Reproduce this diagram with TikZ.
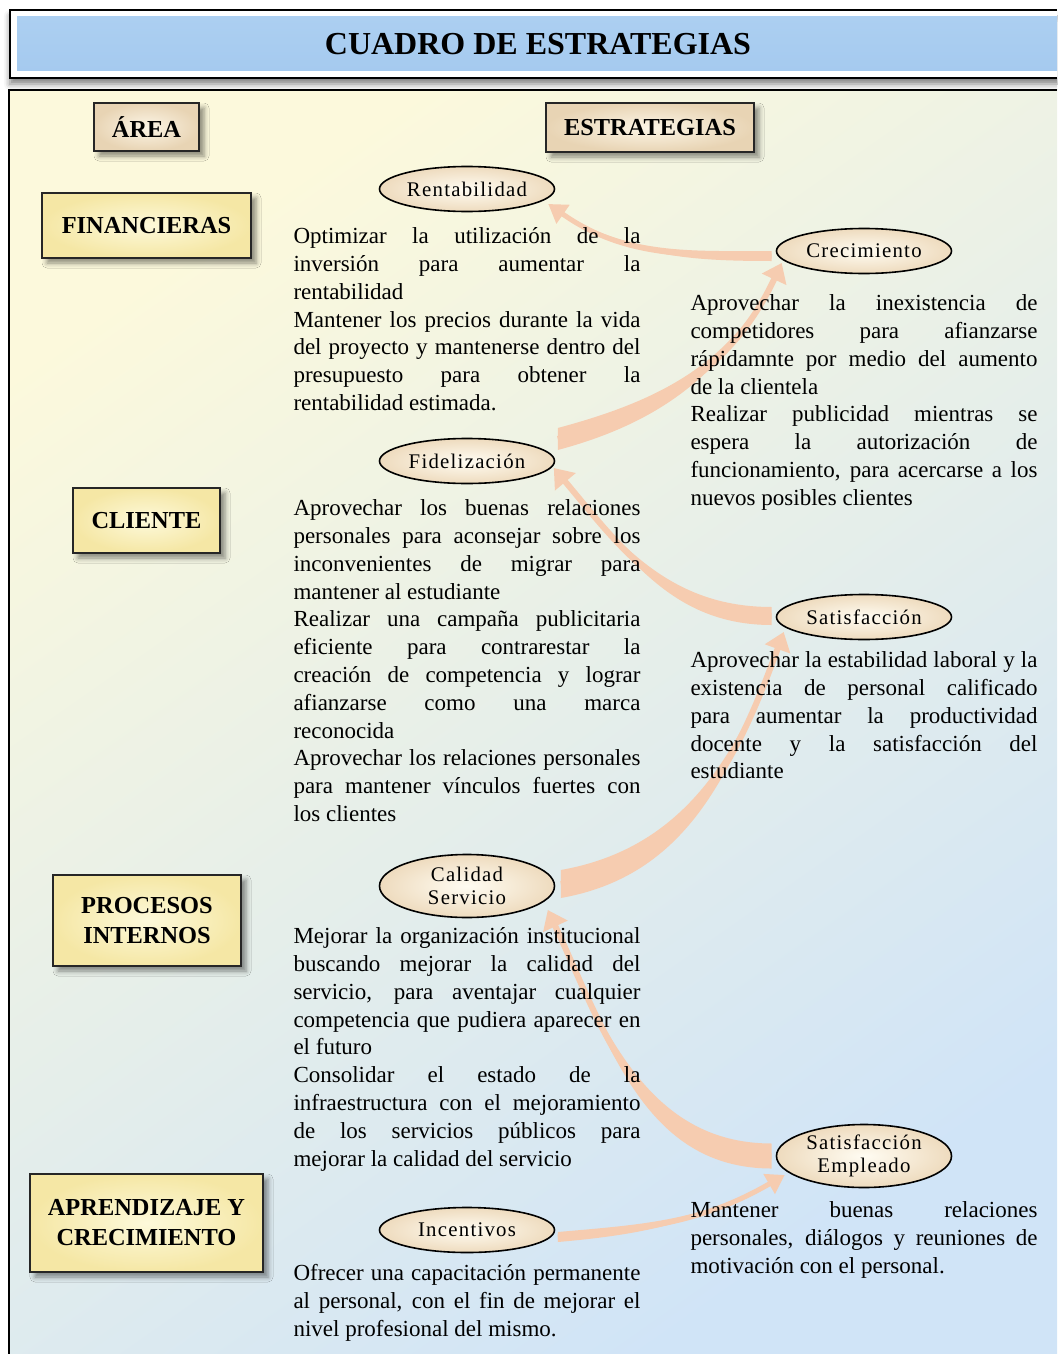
\documentclass[tikz,border=0pt]{standalone}
\usepackage{fontspec}
\setmainfont{Liberation Serif}
\newfontfamily\elipfont[LetterSpace=6]{Liberation Serif}
\usetikzlibrary{positioning,shapes.geometric,arrows.meta,calc,shadows.blur}

\definecolor{flecha}{RGB}{246,204,176}
\definecolor{fondoA}{RGB}{252,249,220}
\definecolor{fondoB}{RGB}{233,240,240}
\definecolor{fondoC}{RGB}{208,228,247}
\definecolor{titA}{RGB}{172,207,241}
\definecolor{titB}{RGB}{134,185,233}
\definecolor{titC}{RGB}{165,202,239}
\definecolor{cajain}{RGB}{252,245,230}
\definecolor{cajaout}{RGB}{232,212,180}
\definecolor{perspin}{RGB}{253,249,218}
\definecolor{perspout}{RGB}{245,231,165}
\definecolor{elipin}{RGB}{255,252,242}
\definecolor{elipout}{RGB}{238,219,190}

\begin{document}
\begin{tikzpicture}[x=0.5pt, y=0.5pt,
    caja/.style = {draw=black!85, line width=1pt, inner color=cajain, outer color=cajaout,
                   font=\bfseries\fontsize{12.2}{15}\selectfont, align=center,
                   blur shadow={shadow xshift=2.5pt, shadow yshift=-2.5pt, shadow blur radius=2.5pt, shadow opacity=45}},
    persp/.style = {caja, inner color=perspin, outer color=perspout, minimum height=32.5pt},
    obj/.style = {draw, ellipse, line width=0.8pt, inner sep=0pt, minimum width=87.5pt, minimum height=22.5pt,
                  inner color=elipin, outer color=elipout, align=center, font=\elipfont\fontsize{10.4}{11.2}\selectfont},
    estr/.style = {text width=173.5pt, align=justify, inner sep=0pt, font=\fontsize{11.5}{13.9}\selectfont},
    banda/.style = {fill=flecha},
    punta/.style = {draw=flecha, line width=3pt, -{Triangle[length=9pt,width=13pt]}},
    puntab/.style = {draw=flecha, line width=2.5pt, -{Triangle[length=9pt,width=11pt]}}]

  \useasboundingbox (0,0) rectangle (1057,-1354);

  % cuadro principal
  \shade[top color=fondoA, middle color=fondoB, bottom color=fondoC, shading angle=35] (9,-90) rectangle (1057,-1354);
  \draw[line width=1pt] (9,-1354) -- (9,-90) -- (1057,-90);

  % titulo
  \draw[line width=1pt, fill=white, blur shadow={shadow xshift=0pt, shadow yshift=-3pt, shadow blur radius=3pt, shadow opacity=50}] (1057,-10) -- (10,-10) -- (10,-78) -- (1057,-78);
  \shade[top color=titA, middle color=titB, bottom color=titC] (17,-17) rectangle (1057,-71);
  \node[font=\bfseries\fontsize{16}{19}\selectfont] (titulo) at (538,-44) {CUADRO DE ESTRATEGIAS};

  % encabezados
  \node[caja, minimum width=52.5pt, minimum height=24pt] (harea) at (146.5,-127) {ÁREA};
  \node[caja, minimum width=104pt, minimum height=24.5pt] (hestr) at (650,-127.5) {ESTRATEGIAS};

  % perspectivas
  \node[persp, minimum width=104.5pt] (fin) at (146.5,-225.5) {FINANCIERAS};
  \node[persp, minimum width=73.5pt] (cli) at (146.5,-520.5) {CLIENTE};
  \node[persp, minimum width=94pt, minimum height=45.5pt] (proc) at (147,-920.5) {PROCESOS\\INTERNOS};
  \node[persp, minimum width=116.5pt, minimum height=49pt] (apr) at (146.5,-1223) {APRENDIZAJE Y\\CRECIMIENTO};

  % objetivos
  \node[obj] (rent) at (467,-189) {Rentabilidad};
  \node[obj] (crec) at (864,-251) {Crecimiento};
  \node[obj] (fid) at (467,-461) {Fidelización};
  \node[obj] (sat) at (864,-617) {Satisfacción};
  \node[obj, minimum height=31.5pt] (cal) at (467,-886) {Calidad\\Servicio};
  \node[obj, minimum height=31.5pt] (satemp) at (864,-1156) {Satisfacción\\Empleado};
  \node[obj] (inc) at (467,-1230) {Incentivos};

  % puntos de las flechas
  \coordinate (c1) at ($(crec.west)+(-4,-5)$);
  \coordinate (r1) at ($(rent.east)+(-7,-15)$);
  \coordinate (f2) at ($(fid.east)+(2.5,22)$);
  \coordinate (c2) at ($(crec.west)+(6,-12)$);
  \coordinate (s3) at ($(sat.west)+(-4,1)$);
  \coordinate (f3) at ($(fid.east)+(-1.5,-7)$);
  \coordinate (k4) at ($(cal.east)+(5.5,2)$);
  \coordinate (s4) at ($(sat.west)+(8,-15)$);
  \coordinate (e5) at ($(satemp.west)+(-4,0)$);
  \coordinate (k5) at ($(cal.east)+(-7.5,-24)$);
  \coordinate (i6) at ($(inc.east)+(2.5,-7)$);
  \coordinate (e6) at ($(satemp.west)+(9,-19)$);

  % flechas
  \fill[banda] ($(c1)+(0,5)$) to[out=180,in=-35] (r1) to[out=-35,in=180] ($(c1)+(0,-5)$) -- cycle;
  \draw[puntab] (c1) to[out=180,in=-35] (r1);

  \fill[banda] ($(f2)+(0,11)$) to[out=15,in=-115] (c2) to[out=-115,in=15] ($(f2)+(0,-11)$) -- cycle;
  \draw[punta] (f2) to[out=15,in=-115] (c2);

  \fill[banda] ($(s3)+(0,9)$) to[out=180,in=-50] (f3) to[out=-50,in=180] ($(s3)+(0,-9)$) -- cycle;
  \draw[punta] (s3) to[out=180,in=-50] (f3);

  \fill[banda] ($(k4)+(0,14)$) to[out=10,in=-110] (s4) to[out=-110,in=10] ($(k4)+(0,-14)$) -- cycle;
  \draw[punta] (k4) to[out=10,in=-110] (s4);

  \fill[banda] ($(e5)+(0,12.5)$) to[out=180,in=-65] (k5) to[out=-65,in=180] ($(e5)+(0,-12.5)$) -- cycle;
  \draw[punta] (e5) to[out=180,in=-65] (k5);

  \fill[banda] ($(i6)+(0,5)$) to[out=5,in=-150] (e6) to[out=-150,in=5] ($(i6)+(0,-5)$) -- cycle;
  \draw[puntab] (i6) to[out=5,in=-150] (e6);

  % estrategias
  \node[estr, below=7.5pt of rent] (trent) {Optimizar la utilización de la\linebreak
    inversión para aumentar la\linebreak rentabilidad\par
    Mantener los precios durante la vida\linebreak del proyecto y mantenerse dentro del\linebreak
    presupuesto para obtener la\linebreak rentabilidad estimada.};
  \node[estr, below=10pt of crec] (tcrec) {Aprovechar la inexistencia de\linebreak
    competidores para afianzarse\linebreak rápidamnte por medio del aumento\linebreak de la clientela\par
    Realizar publicidad mientras se\linebreak espera la autorización de\linebreak
    funcionamiento, para acercarse a los\linebreak nuevos posibles clientes};
  \node[estr, below=7.5pt of fid] (tfid) {Aprovechar los buenas relaciones\linebreak
    personales para aconsejar sobre los\linebreak inconvenientes de migrar para\linebreak mantener al estudiante\par
    Realizar una campaña publicitaria\linebreak eficiente para contrarestar la\linebreak
    creación de competencia y lograr\linebreak afianzarse como una marca\linebreak reconocida\par
    Aprovechar los relaciones personales\linebreak para mantener vínculos fuertes con\linebreak los clientes};
  \node[estr, below=5.5pt of sat] (tsat) {Aprovechar la estabilidad laboral y la\linebreak
    existencia de personal calificado\linebreak para aumentar la productividad\linebreak
    docente y la satisfacción del\linebreak estudiante};
  \node[estr, below=4.5pt of cal] (tcal) {Mejorar la organización institucional\linebreak
    buscando mejorar la calidad del\linebreak servicio, para aventajar cualquier\linebreak
    competencia que pudiera aparecer en\linebreak el futuro\par
    Consolidar el estado de la\linebreak infraestructura con el mejoramiento\linebreak
    de los servicios públicos para\linebreak mejorar la calidad del servicio};
  \node[estr, below=6.5pt of satemp] (tsatemp) {Mantener buenas relaciones\linebreak
    personales, diálogos y reuniones de\linebreak motivación con el personal.};
  \node[estr, below=5.5pt of inc] (tinc) {Ofrecer una capacitación permanente\linebreak
    al personal, con el fin de mejorar el\linebreak nivel profesional del mismo.};
\end{tikzpicture}
\end{document}
